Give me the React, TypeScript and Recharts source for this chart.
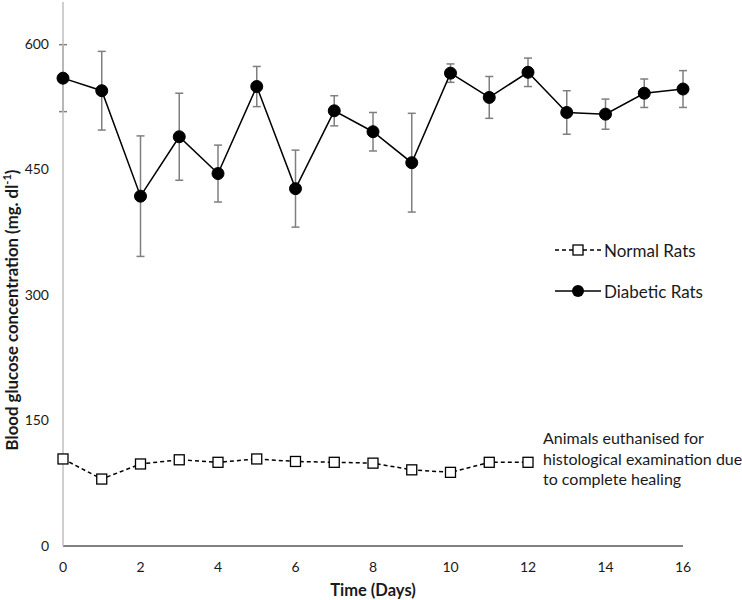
import React from 'react';
import { LineChart, Line, XAxis, YAxis, ErrorBar } from 'recharts';

const days = [0, 1, 2, 3, 4, 5, 6, 7, 8, 9, 10, 11, 12, 13, 14, 15, 16];
const diabetic = [559, 544, 418, 489, 445, 549, 427, 520, 495, 458, 565, 536, 566, 518, 516, 541, 546];
const diabeticSem = [40, 47, 72, 52, 34, 24, 46, 18, 23, 59, 11, 25, 17, 26, 18, 17, 22];
const normal = [104, 80, 98, 103, 100, 104, 101, 100, 99, 91, 88, 100, 100];
const normalSem = [3, 3, 3, 3, 4, 3, 3, 3, 3, 3, 3, 3, 3];

const xTicks = [0, 2, 4, 6, 8, 10, 12, 14, 16];
const yTicks = [0, 150, 300, 450, 600];

const data = days.map((d, i) => ({
  day: d,
  diabetic: diabetic[i],
  diabeticErr: diabeticSem[i],
  normal: i < normal.length ? normal[i] : null,
  normalErr: i < normal.length ? normalSem[i] : null,
}));

const FONT = 'Lato, "Open Sans", sans-serif';
const TXT = '#1a1a1a';

const SquareDot = (props: any) => {
  const { cx, cy, value } = props;
  if (cx == null || cy == null || value == null) return null;
  return <rect x={cx - 5} y={cy - 5} width={10} height={10} fill="#fff" stroke="#000" strokeWidth={1.3} />;
};

export default function App() {
  return (
    <div style={{ position: 'absolute', left: 0, top: 0, width: 742, height: 600, background: '#fff', fontFamily: FONT }}>
      <LineChart width={742} height={600} data={data} margin={{ top: 2, right: 59, bottom: 24, left: 13 }}>
        <XAxis
          dataKey="day"
          type="number"
          domain={[0, 16]}
          ticks={xTicks}
          axisLine={{ stroke: '#595959', strokeWidth: 1.5 }}
          tickLine={false}
          tickMargin={10}
          height={30}
          tick={{ fill: TXT, fontSize: 14, fontFamily: FONT }}
        />
        <YAxis
          type="number"
          domain={[0, 650]}
          ticks={yTicks}
          width={50}
          axisLine={{ stroke: '#bfbfbf', strokeWidth: 1.5 }}
          tickLine={false}
          tickMargin={8}
          tick={{ fill: TXT, fontSize: 14, fontFamily: FONT }}
        />
        <Line
          dataKey="normal"
          stroke="#000"
          strokeWidth={1.5}
          strokeDasharray="4 3"
          dot={<SquareDot />}
          isAnimationActive={false}
        >
          <ErrorBar dataKey="normalErr" width={3} stroke="#7f7f7f" strokeWidth={1.2} direction="y" />
        </Line>
        <Line
          dataKey="diabetic"
          stroke="#000"
          strokeWidth={1.5}
          dot={{ r: 6, fill: '#000', stroke: '#000', strokeWidth: 1 }}
          isAnimationActive={false}
        >
          <ErrorBar dataKey="diabeticErr" width={4} stroke="#7f7f7f" strokeWidth={1.5} direction="y" />
        </Line>
      </LineChart>

      {/* axis titles */}
      <div
        style={{
          position: 'absolute', left: 12, top: 310, transform: 'translate(-50%, -50%) rotate(-90deg)',
          whiteSpace: 'nowrap', fontWeight: 700, fontSize: 16.8, color: TXT, lineHeight: '20px',
        }}
      >
        Blood glucose concentration (mg. dl<sup style={{ fontSize: 11, lineHeight: 0 }}>-1</sup>)
      </div>
      <div
        style={{
          position: 'absolute', left: 373, top: 590, transform: 'translate(-50%, -50%)',
          whiteSpace: 'nowrap', fontWeight: 700, fontSize: 16.5, color: TXT,
        }}
      >
        Time (Days)
      </div>

      {/* legend */}
      <div style={{ position: 'absolute', left: 554, top: 240, display: 'flex', alignItems: 'center', height: 20 }}>
        <svg width={48} height={14}>
          <line x1={1} y1={7} x2={47} y2={7} stroke="#000" strokeWidth={1.5} strokeDasharray="4 3" />
          <rect x={19} y={2} width={10} height={10} fill="#fff" stroke="#000" strokeWidth={1.3} />
        </svg>
        <span style={{ fontSize: 17, color: TXT, marginLeft: 2 }}>Normal Rats</span>
      </div>
      <div style={{ position: 'absolute', left: 554, top: 281, display: 'flex', alignItems: 'center', height: 20 }}>
        <svg width={48} height={14}>
          <line x1={1} y1={7} x2={47} y2={7} stroke="#000" strokeWidth={1.5} />
          <circle cx={24} cy={7} r={6} fill="#000" />
        </svg>
        <span style={{ fontSize: 17, color: TXT, marginLeft: 2 }}>Diabetic Rats</span>
      </div>

      {/* annotation */}
      <div style={{ position: 'absolute', left: 543, top: 428, fontSize: 16, lineHeight: '20.5px', color: TXT, whiteSpace: 'nowrap' }}>
        Animals euthanised for
        <br />
        histological examination due
        <br />
        to complete healing
      </div>
    </div>
  );
}
